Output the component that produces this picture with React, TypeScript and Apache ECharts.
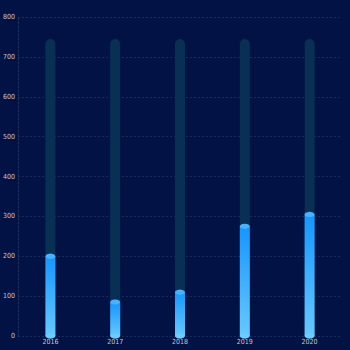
import React, { useEffect, useRef } from "react";
import * as echarts from "echarts";

const categories = ["2016", "2017", "2018", "2019", "2020"];
const values = [200, 85, 110, 275, 305];
const backgroundValues = [745, 745, 745, 745, 745];

export default function App() {
  const ref = useRef<HTMLDivElement>(null);
  useEffect(() => {
    const chart = echarts.init(ref.current!, null, { renderer: "svg" });
    chart.setOption({
      animation: false,
      backgroundColor: "#021245",
      grid: { left: 18, right: 8, top: 17, bottom: 14 },
      xAxis: {
        type: "category",
        data: categories,
        axisLine: { show: false },
        axisTick: { show: false },
        axisLabel: { color: "#c4c6cf", fontSize: 7, margin: 2, fontFamily: "Liberation Sans Narrow, DejaVu Sans Condensed, sans-serif" },
      },
      yAxis: {
        type: "value",
        min: 0,
        max: 800,
        interval: 100,
        axisLine: { show: true, lineStyle: { color: "rgba(255,255,255,0.12)", type: [2, 2] } },
        axisTick: { show: false },
        axisLabel: { color: "#c4c6cf", fontSize: 7, margin: 3, fontFamily: "Liberation Sans Narrow, DejaVu Sans Condensed, sans-serif" },
        splitLine: { lineStyle: { color: "rgba(255,255,255,0.1)", type: [2, 2] } },
      },
      series: [
        {
          type: "bar",
          data: backgroundValues,
          barWidth: 10,
          itemStyle: { color: "#073054", borderRadius: [5, 5, 0, 0] },
          z: 1,
          silent: true,
        },
        {
          type: "bar",
          data: values,
          barWidth: 10,
          barGap: "-100%",
          itemStyle: {
            color: new echarts.graphic.LinearGradient(0, 0, 0, 1, [
              { offset: 0, color: "#1596ff" },
              { offset: 1, color: "#66c9ff" },
            ]),
          },
          z: 2,
        },
        {
          type: "pictorialBar",
          data: values,
          symbol: "circle",
          symbolSize: [10, 5],
          symbolPosition: "end",
          symbolOffset: [0, "-50%"],
          itemStyle: { color: "#47b2ff" },
          z: 3,
        },
        {
          type: "pictorialBar",
          data: values,
          symbol: "circle",
          symbolSize: [10, 5],
          symbolPosition: "start",
          symbolOffset: [0, "50%"],
          itemStyle: { color: "#6ccbff" },
          z: 3,
        },
      ],
    });
    return () => chart.dispose();
  }, []);
  return <div ref={ref} style={{ width: 350, height: 350, position: "absolute", left: 0, top: 0 }} />;
}
